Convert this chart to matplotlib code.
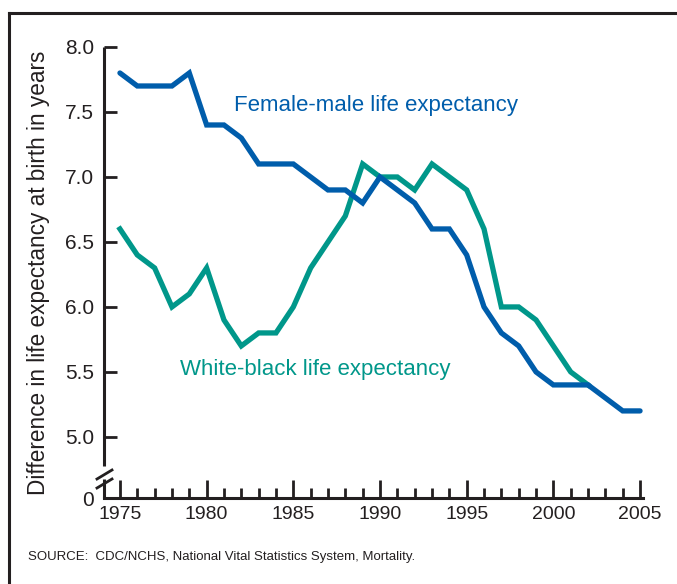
import matplotlib.pyplot as plt
import numpy as np

plt.rcParams['font.family'] = ['Liberation Sans', 'DejaVu Sans']

years = list(range(1975, 2006))
female_male = [7.8, 7.7, 7.7, 7.7, 7.8, 7.4, 7.4, 7.3, 7.1, 7.1, 7.1, 7.0, 6.9, 6.9, 6.8, 7.0,
               6.9, 6.8, 6.6, 6.6, 6.4, 6.0, 5.8, 5.7, 5.5, 5.4, 5.4, 5.4, 5.3, 5.2, 5.2]
wb_years = list(range(1975, 2003))
white_black = [6.6, 6.4, 6.3, 6.0, 6.1, 6.3, 5.9, 5.7, 5.8, 5.8, 6.0, 6.3, 6.5, 6.7, 7.1, 7.0,
               7.0, 6.9, 7.1, 7.0, 6.9, 6.6, 6.0, 6.0, 5.9, 5.7, 5.5, 5.4]

ytick_vals = [5.0, 5.5, 6.0, 6.5, 7.0, 7.5, 8.0]
ytick_labels = ['5.0', '5.5', '6.0', '6.5', '7.0', '7.5', '8.0']
xtick_vals = [1975, 1980, 1985, 1990, 1995, 2000, 2005]

blue = '#005dab'
teal = '#00978a'
ink = '#231f20'

fig = plt.figure(figsize=(6.77, 5.84), dpi=100)

# outer frame (runs off right and bottom edges)
fig.add_artist(plt.Line2D([9/677, 9/677], [0, 1 - 13/584], color=ink, lw=2.2,
                          transform=fig.transFigure))
fig.add_artist(plt.Line2D([9/677, 1.0], [1 - 13/584, 1 - 13/584], color=ink, lw=2.2,
                          transform=fig.transFigure))

ax = fig.add_axes([104/677, 1 - 498/584, (643 - 104)/677, (498 - 47)/584])
y_bottom = 4.53
ax.set_xlim(1974.08, 2005.17)
ax.set_ylim(y_bottom, 8.0)

ax.plot(years, female_male, color=blue, lw=3.8, solid_joinstyle='miter', solid_capstyle='round', zorder=3)
ax.plot(wb_years, white_black, color=teal, lw=3.8, solid_joinstyle='miter', zorder=2)

for s in ['top', 'right', 'left']:
    ax.spines[s].set_visible(False)
ax.spines['bottom'].set_linewidth(2.2)
ax.spines['bottom'].set_color(ink)

# left spine with break
tr = ax.transAxes
ax.plot([0, 0], [1.0, (498 - 466) / 451], color=ink, lw=2.2, transform=tr, clip_on=False,
        solid_capstyle='butt')
ax.plot([0, 0], [(498 - 479) / 451, 0], color=ink, lw=2.2, transform=tr, clip_on=False,
        solid_capstyle='butt')
for off in [0, 9]:
    y0 = (498 - 475 - off) / 451
    ax.plot([-7 / 539, 8 / 539], [y0 - 4 / 451, y0 + 5 / 451], color=ink, lw=2.0,
            transform=tr, clip_on=False)

ax.set_yticks(ytick_vals + [y_bottom])
ax.set_yticklabels(ytick_labels + ['0'])
ax.tick_params(axis='y', direction='in', length=9, width=2, color=ink, pad=7,
               labelsize=15, labelcolor=ink)
ax.set_xticks(xtick_vals)
ax.set_xticks(years, minor=True)
ax.tick_params(axis='x', which='major', direction='in', length=13, width=2, color=ink,
               pad=6, labelsize=14, labelcolor=ink)
ax.tick_params(axis='x', which='minor', direction='in', length=7, width=2, color=ink)

ax.set_ylabel('Difference in life expectancy at birth in years', fontsize=16.3, color=ink)
ax.yaxis.set_label_coords(-0.1, 0.5)

ax.text(1981.6, 7.55, 'Female-male life expectancy', color=blue, fontsize=16, va='center')
ax.text(1978.45, 5.52, 'White-black life expectancy', color=teal, fontsize=16, va='center')

fig.text(28/677, 1 - 557/584, 'SOURCE:  CDC/NCHS, National Vital Statistics System, Mortality.',
         fontsize=9.5, color=ink, va='center')

fig.savefig('out.png', dpi=100)
